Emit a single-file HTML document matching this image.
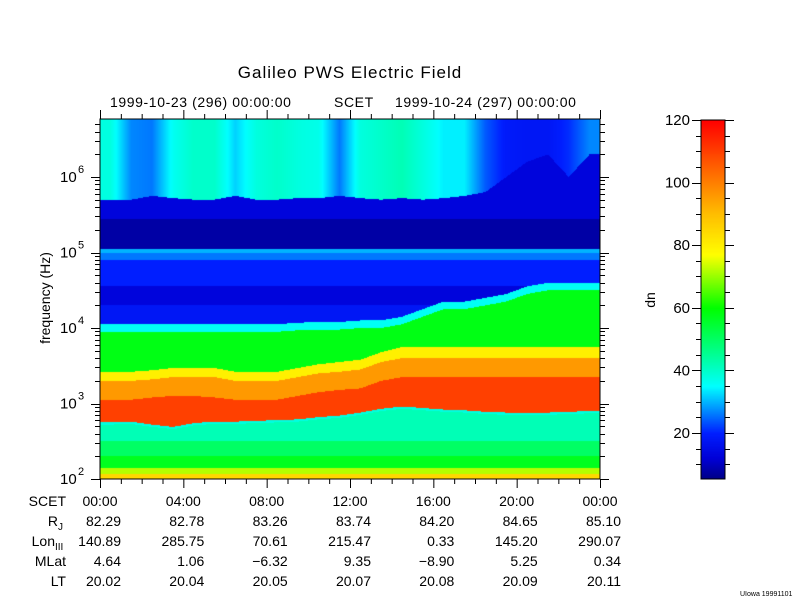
<!DOCTYPE html>
<html><head><meta charset="utf-8">
<style>
html,body{margin:0;padding:0;background:#fff;}
#wrap{position:relative;width:800px;height:600px;overflow:hidden;font-family:"Liberation Sans",sans-serif;}
canvas{position:absolute;left:0;top:0;}
svg{position:absolute;left:0;top:0;}
text{font-family:"Liberation Sans",sans-serif;fill:#000;}
</style></head>
<body>
<div id="wrap">
<canvas id="spec" width="800" height="600"></canvas>
<svg id="ax" width="800" height="600"></svg>
</div>
<script>
// ---- data (per hour of the day, log10 Hz) ----
const hourLabels = ["00:00","04:00","08:00","12:00","16:00","20:00","00:00"];
const rjValues = ["82.29","82.78","83.26","83.74","84.20","84.65","85.10"];
const lonValues = ["140.89","285.75","70.61","215.47","0.33","145.20","290.07"];
const mlatValues = ["4.64","1.06","\u22126.32","9.35","\u22128.90","5.25","0.34"];
const ltValues = ["20.02","20.04","20.05","20.07","20.08","20.09","20.11"];
const yTickExps = [2,3,4,5,6];
const cbTicks = [20,40,60,80,100,120];
const cutoffLog = [2.75,2.76,2.72,2.69,2.74,2.76,2.76,2.77,2.78,2.79,2.82,2.84,2.88,2.93,2.96,2.94,2.92,2.91,2.89,2.88,2.88,2.88,2.89,2.90];
const redTopLog = [3.05,3.05,3.08,3.10,3.10,3.08,3.05,3.05,3.05,3.10,3.15,3.18,3.20,3.30,3.35,3.35,3.35,3.35,3.35,3.35,3.35,3.35,3.35,3.35];
const orangeTopLog = [3.30,3.30,3.32,3.35,3.35,3.35,3.30,3.30,3.30,3.35,3.40,3.42,3.45,3.55,3.60,3.60,3.60,3.60,3.60,3.60,3.60,3.60,3.60,3.60];
const yellowTopLog = [3.42,3.42,3.44,3.47,3.47,3.47,3.42,3.42,3.42,3.47,3.52,3.55,3.58,3.68,3.75,3.75,3.75,3.75,3.75,3.75,3.75,3.75,3.75,3.75];
const greenTopLog = [3.95,3.95,3.95,3.95,3.95,3.95,3.95,3.95,3.95,3.97,3.98,3.98,4.00,4.00,4.05,4.15,4.25,4.25,4.30,4.35,4.45,4.50,4.50,4.50];
const radioBottomLog = [5.70,5.70,5.75,5.72,5.70,5.70,5.75,5.70,5.70,5.72,5.72,5.75,5.72,5.70,5.72,5.70,5.72,5.75,5.80,6.00,6.20,6.30,6.00,6.30];
const radioLevel = [38,27,26,36,40,40,32,38,40,38,37,26,38,40,42,38,34,34,24,19,18,18,21,27];

const X0=100,X1=600,Y0=119,Y1=479,DEC=75.5;
const xOf = h => X0 + (X1-X0)*h/24;
const yOfLog = lf => Y1 - (lf-2)*DEC;
const logOfY = y => 2 + (Y1-y)/DEC;
const CB_TOP=120, CB_BOT=479, CB_MIN=5.3, CB_MAX=120;
const cbY = v => CB_BOT - (v-CB_MIN)/(CB_MAX-CB_MIN)*(CB_BOT-CB_TOP);

const stops=[[5,0,0,128],[12,0,0,215],[20,0,30,255],[28,0,150,255],[35,0,255,255],[45,0,255,150],[60,0,255,0],[70,150,255,0],[77,255,255,0],[90,255,190,0],[100,255,128,0],[110,255,64,0],[120,255,0,0]];
function cmap(v){
  if(v<=stops[0][0]) return stops[0].slice(1);
  for(let i=1;i<stops.length;i++){ if(v<=stops[i][0]){const a=stops[i-1],b=stops[i],t=(v-a[0])/(b[0]-a[0]);return [0,1,2].map(k=>Math.round(a[k+1]+(b[k+1]-a[k+1])*t));}}
  return [255,0,0];
}
function interp(arr,h){const i=Math.min(23,Math.max(0,Math.floor(h-0.5)));const j=Math.min(23,i+1);let t=h-0.5-i;t=Math.max(0,Math.min(1,t));return arr[i]+(arr[j]-arr[i])*t;}
function valueAt(h,lf){
  const cut=interp(cutoffLog,h),rt=interp(redTopLog,h),ot=interp(orangeTopLog,h),yt=interp(yellowTopLog,h),gt=interp(greenTopLog,h);
  const rb=interp(radioBottomLog,h),rl=interp(radioLevel,h);
  if(lf<2.06) return 85;
  if(lf<2.14) return 72;
  if(lf<2.3) return 57;
  if(lf<2.5) return 50;
  if(lf<cut-0.03) return 42;
  if(lf<cut) return 38;
  if(lf<rt) return 110;
  if(lf<ot) return 96;
  if(lf<yt) return 80;
  if(lf<gt) return 58;
  if(lf<gt+0.1) return 36;
  if(lf<4.3) return 18;
  if(lf<4.55) return 13;
  if(lf<4.9) return 20;
  if(lf<5.0) return 26;
  if(lf<5.05) return 30;
  if(lf<5.45) return 8;
  if(lf<rb) return 13;
  return rl;
}
// spectrogram
const ctx=document.getElementById('spec').getContext('2d');
const img=ctx.createImageData(X1-X0,Y1-Y0);
for(let py=0;py<Y1-Y0;py++){
  const lf=logOfY(Y0+py+0.5);
  for(let px=0;px<X1-X0;px++){
    const h=(px+0.5)/(X1-X0)*24;
    const c=cmap(valueAt(h,lf));
    const o=(py*(X1-X0)+px)*4;
    img.data[o]=c[0];img.data[o+1]=c[1];img.data[o+2]=c[2];img.data[o+3]=255;
  }
}
ctx.putImageData(img,X0,Y0);
// colorbar
for(let y=CB_TOP;y<CB_BOT;y++){
  const v=CB_MAX-(y-CB_TOP)/(CB_BOT-CB_TOP)*(CB_MAX-CB_MIN);
  const c=cmap(v);ctx.fillStyle=`rgb(${c[0]},${c[1]},${c[2]})`;ctx.fillRect(701,y,24,1);
}
// axes svg
const svg=document.getElementById('ax');const NS="http://www.w3.org/2000/svg";
function el(tag,attrs,txt){const e=document.createElementNS(NS,tag);for(const k in attrs)e.setAttribute(k,attrs[k]);if(txt!==undefined)e.textContent=txt;svg.appendChild(e);return e;}
function line(x1,y1,x2,y2){return el('line',{x1,y1,x2,y2,stroke:'#000','stroke-width':1});}
let r=el('rect',{x:X0,y:Y0,width:X1-X0,height:Y1-Y0,fill:'none',stroke:'#000','stroke-width':1});


let cb=el('rect',{x:701,y:CB_TOP,width:24,height:CB_BOT-CB_TOP,fill:'none',stroke:'#000','stroke-width':1});


// x ticks
for(let h=0;h<=24;h++){const x=xOf(h)+0.5;const L=(h%4===0)?9:5;line(x,Y1,x,Y1+L);line(x,Y0,x,Y0-L);}
// y ticks
for(let e=2;e<=6;e++){for(let m=1;m<10;m++){const lf=e+Math.log10(m);if(lf>logOfY(Y0))break;const y=Math.round(yOfLog(lf))+0.5;const L=m===1?9:5;line(X0-L,y,X0,y);line(X1,y,X1+L,y);}}
yTickExps.forEach(e=>{const y=yOfLog(e);
 const t=el('text',{x:60,y:y+5,'font-size':15},'10');
 
 
 const s=el('text',{x:78,y:y-4,'font-size':11},String(e));
 
 
});
// colorbar ticks
for(let v=10;v<=120;v+=5){const y=Math.round(cbY(v))+0.5;const L=(v%20===0)?9:5;line(701-L,y,701,y);line(725,y,725+L,y);}
cbTicks.forEach(v=>{const t=el('text',{x:690,y:cbY(v)+5,'font-size':15,'text-anchor':'end'},String(v));
 
 });
// titles
let tt=el('text',{x:350,y:78,'font-size':17,'text-anchor':'middle','letter-spacing':'1'},'Galileo PWS Electric Field');


let d1=el('text',{x:110,y:107,'font-size':14,'letter-spacing':'0.6'},'1999-10-23 (296) 00:00:00');


let sc=el('text',{x:334,y:107,'font-size':14,'letter-spacing':'0.6'},'SCET');


let d2=el('text',{x:395,y:107,'font-size':14,'letter-spacing':'0.6'},'1999-10-24 (297) 00:00:00');


let yt=el('text',{x:0,y:0,'font-size':14,'text-anchor':'middle',transform:'translate(50,298) rotate(-90)'},'frequency (Hz)');


let dn=el('text',{x:0,y:0,'font-size':14,'text-anchor':'middle',transform:'translate(655,300) rotate(-90)'},'dn');


// ephemeris table
const rowsY=[506,526,546,566,586];
const rowNames=['SCET','R','Lon','MLat','LT'];
rowNames.forEach((n,i)=>{const t=el('text',{x:n==='R'?58:(n==='Lon'?55:66),y:rowsY[i],'font-size':14,'text-anchor':'end'},n);
 
 });
let sj=el('text',{x:58,y:530,'font-size':10},'J');
let sl=el('text',{x:55,y:550,'font-size':10},'III');
[hourLabels,rjValues,lonValues,mlatValues,ltValues].forEach((arr,i)=>{
 arr.forEach((s,k)=>{const x=xOf(k*4);
  const t=el('text',{x:i===0?x:x+21,y:rowsY[i],'font-size':14,'text-anchor':i===0?'middle':'end'},s);
  
  });
});
let ft=el('text',{x:740,y:596,'font-size':7},'UIowa 19991101');


</script>
</body></html>
